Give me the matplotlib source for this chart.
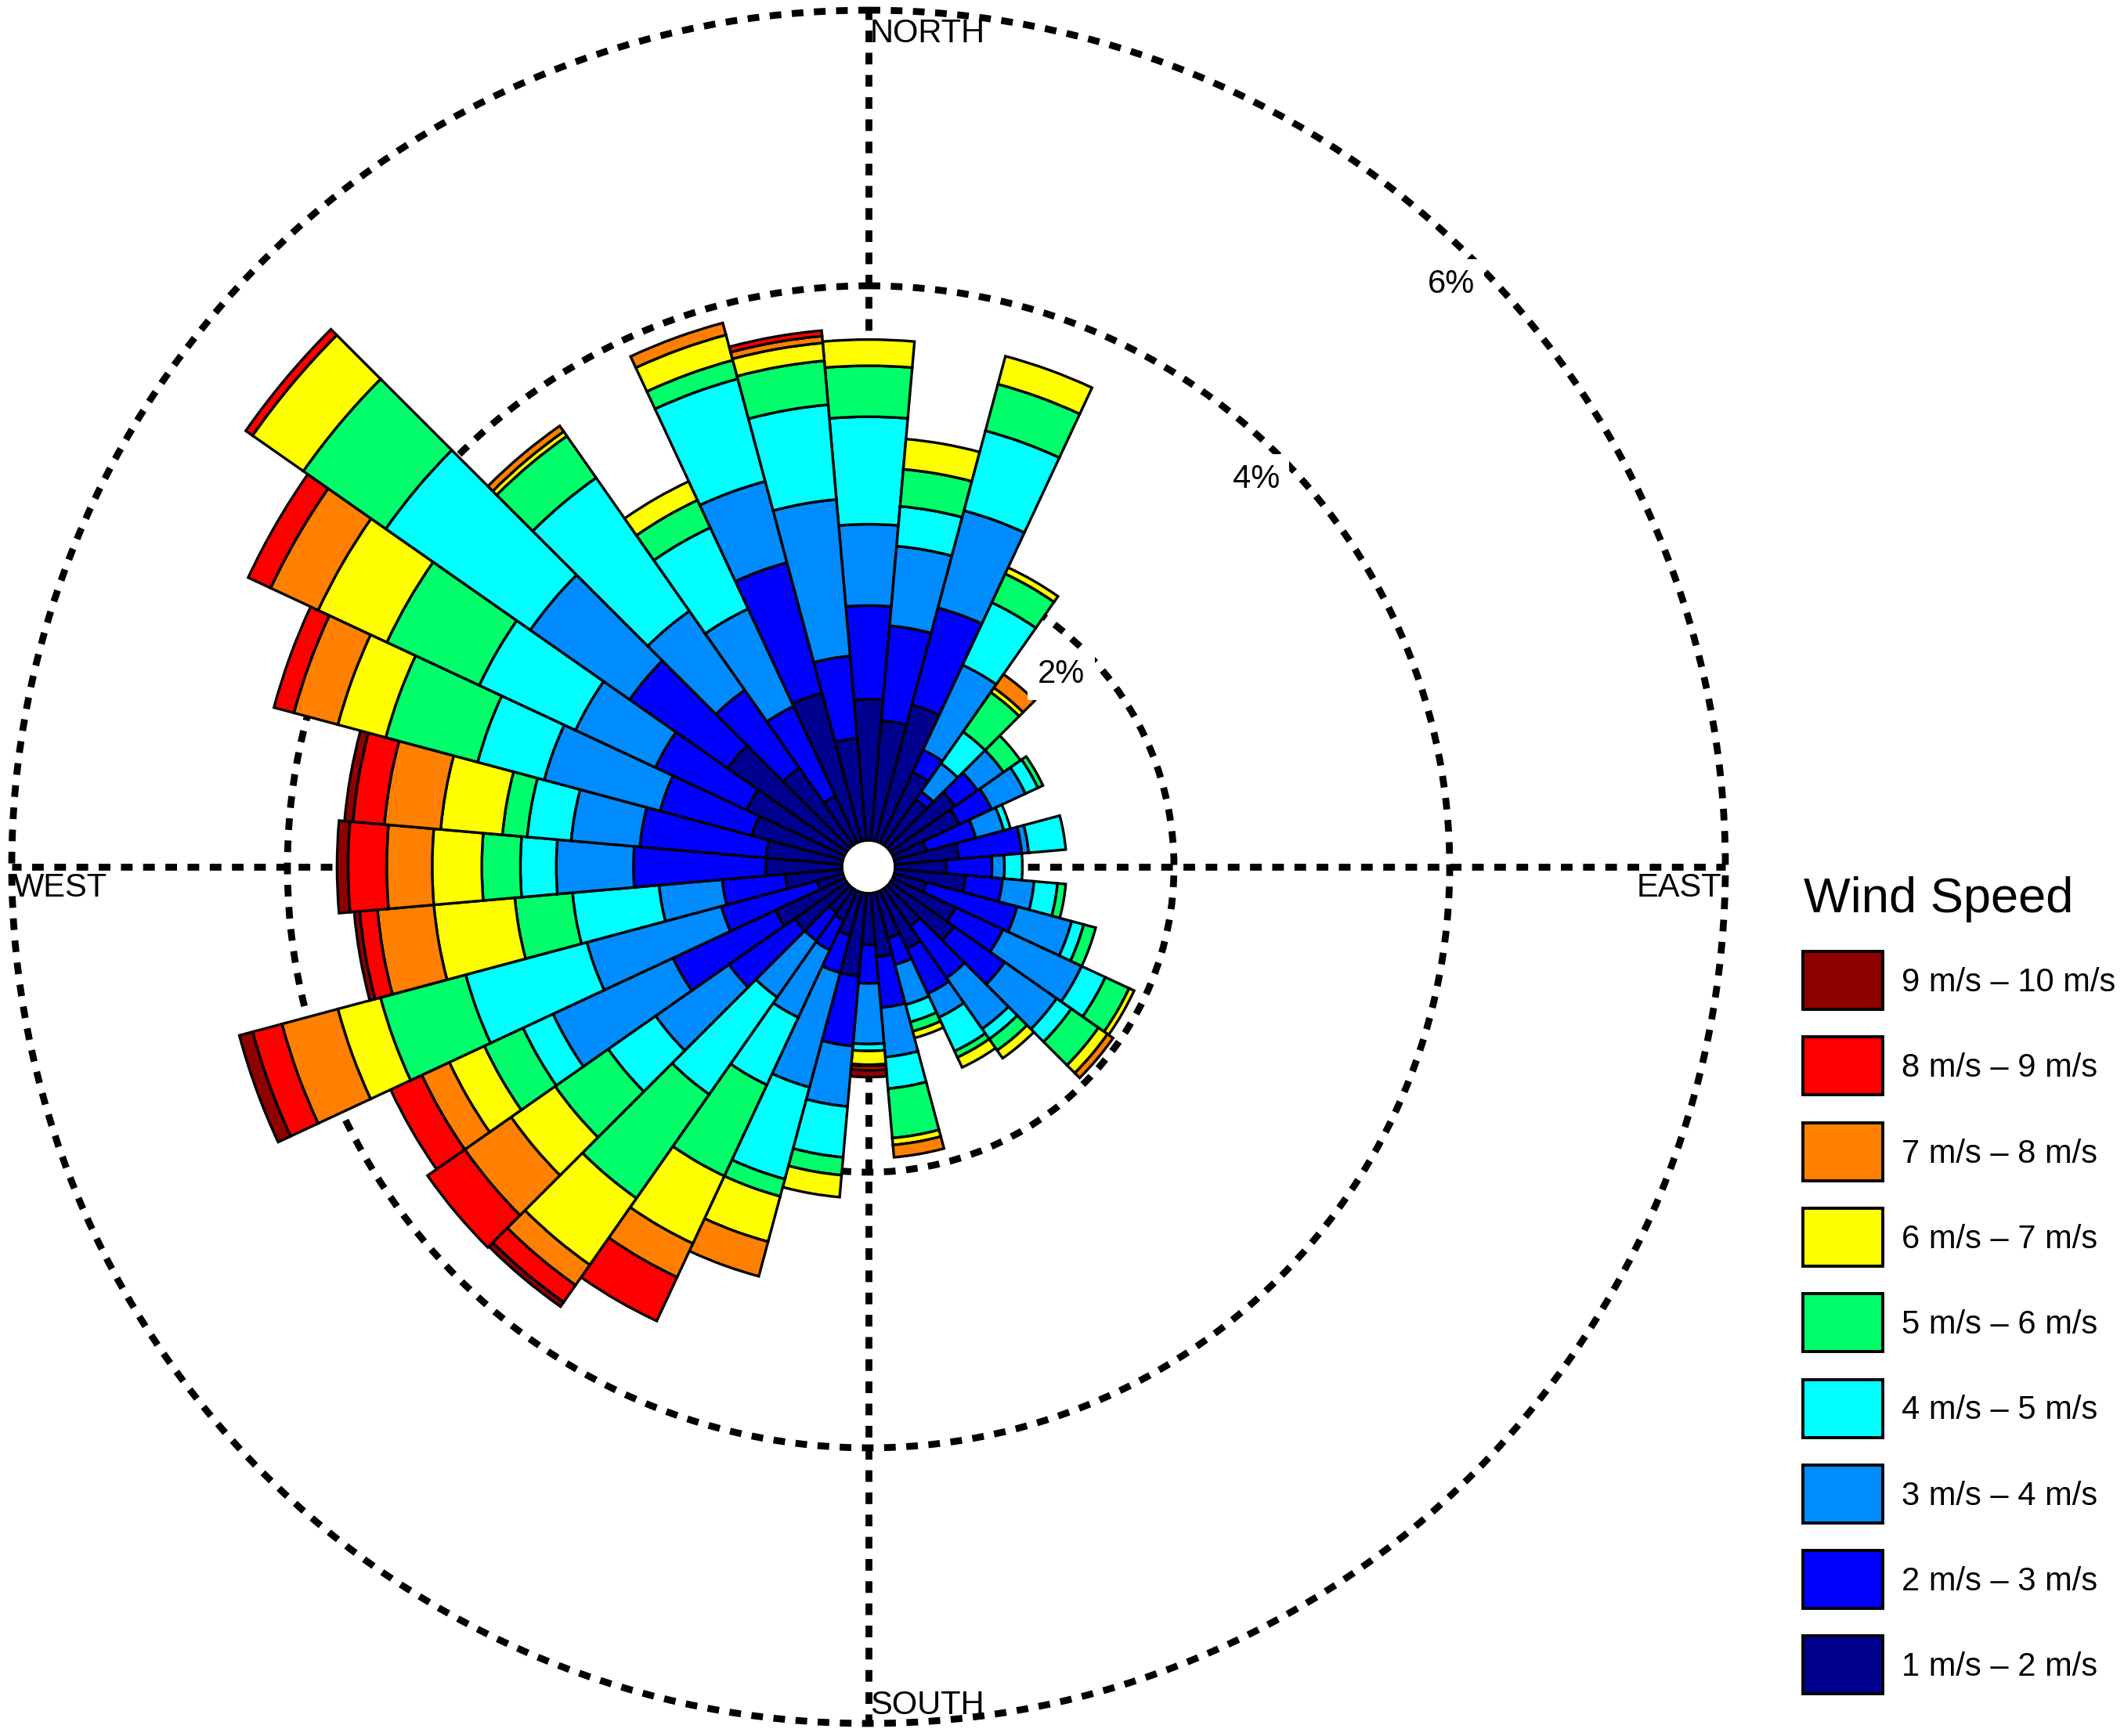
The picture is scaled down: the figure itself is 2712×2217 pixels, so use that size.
import numpy as np
import matplotlib
matplotlib.use("Agg")
import matplotlib.pyplot as plt
from matplotlib.patches import Rectangle

plt.rcParams['font.family'] = ['Liberation Sans', 'DejaVu Sans']

W, H = 2712, 2217
CX, CY = 1109, 1107  # centre of the rose, pixels
R_OUT = 1094         # pixels at 6%
R_HOLE = 38          # pixels at 0%

directions = list(range(0, 360, 10))

speed_labels = ['1 m/s – 2 m/s', '2 m/s – 3 m/s', '3 m/s – 4 m/s', '4 m/s – 5 m/s', '5 m/s – 6 m/s',
                '6 m/s – 7 m/s', '7 m/s – 8 m/s', '8 m/s – 9 m/s', '9 m/s – 10 m/s']
speed_colors = ['#00008F', '#0000FF', '#008CFF', '#00FFFF', '#00FF6A',
                '#FFFF00', '#FF8000', '#FF0000', '#8F0000']

# cumulative percent at the outer end of each speed band, one row per direction
# rows can be short, missing bands just are not there
petals = [
    [1.00, 1.68, 2.27, 3.05, 3.42, 3.61],                    # 0
    [0.85, 1.54, 2.12, 2.41, 2.68, 2.90],                    # 10
    [1.00, 1.73, 2.46, 3.06, 3.41, 3.62],                    # 20
    [0.54, 0.72, 1.40, 1.90, 2.13, 2.18],                    # 30
    [0.38, 0.45, 0.70, 0.98, 1.33, 1.37, 1.49],              # 40
    [0.55, 0.75, 0.98, 0.98, 1.13],                          # 50
    [0.51, 0.77, 1.04, 1.14, 1.18],                          # 60
    [0.22, 0.59, 0.80, 0.85],                                # 70
    [0.44, 0.90, 0.95, 1.22],                                # 80
    [0.35, 0.68, 0.77, 0.90],                                # 90
    [0.49, 0.76, 0.99, 1.16, 1.22],                          # 100
    [0.22, 0.90, 1.31, 1.40, 1.49],                          # 110
    [0.48, 0.86, 1.49, 1.68, 1.87, 1.91],                    # 120
    [0.54, 0.99, 1.45, 1.58, 1.82, 1.90, 1.95],              # 130
    [0.31, 0.77, 1.22, 1.31, 1.41, 1.48],                    # 140
    [0.44, 0.80, 0.99, 1.26, 1.31, 1.39],                    # 150
    [0.32, 0.52, 0.82, 0.95, 1.02, 1.07],                    # 160
    [0.44, 0.81, 1.17, 1.40, 1.76, 1.81, 1.90],              # 170
    [0.35, 0.63, 1.07, 1.12, 1.12, 1.22, 1.23, 1.26, 1.31],  # 180
    [0.58, 1.09, 1.53, 1.90, 2.03, 2.19],                    # 190
    [0.30, 0.58, 1.44, 2.13, 2.26, 2.60, 2.86],              # 200
    [0.21, 0.45, 0.99, 1.53, 2.26, 2.80, 3.07, 3.42],        # 210
    [0.19, 0.44, 0.94, 1.80, 2.72, 3.31, 3.49, 3.64, 3.68],  # 220
    [0.44, 1.02, 1.67, 2.09, 2.56, 2.95, 3.36, 3.69],        # 230
    [0.53, 1.35, 2.31, 2.55, 2.86, 3.14, 3.36, 3.61],        # 240
    [0.17, 0.89, 1.90, 2.81, 3.45, 3.77, 4.19, 4.41, 4.51],  # 250
    [0.39, 0.85, 1.31, 1.94, 2.36, 2.95, 3.36, 3.49, 3.53],  # 260
    [0.53, 1.49, 2.05, 2.31, 2.59, 2.95, 3.28, 3.56, 3.64],  # 270
    [0.53, 1.45, 1.95, 2.27, 2.45, 2.90, 3.31, 3.54, 3.60],  # 280
    [0.66, 1.35, 2.22, 2.72, 3.41, 3.77, 4.10, 4.25],        # 290
    [0.76, 1.49, 2.13, 2.90, 3.64, 4.19, 4.57, 4.75],        # 300
    [1.03, 1.90, 2.78, 4.06, 4.79, 5.24, 5.24, 5.30],        # 310
    [0.66, 1.35, 2.05, 3.23, 3.60, 3.64, 3.69],              # 320
    [0.35, 1.07, 1.85, 2.50, 2.72, 2.87],                    # 330
    [1.09, 2.07, 2.68, 3.45, 3.59, 3.78, 3.87],              # 340
    [0.72, 1.32, 2.46, 3.15, 3.47, 3.60, 3.65, 3.69],        # 350
]

ring_ticks = [2, 4, 6]
ring_labels = ['2%', '4%', '6%']


def fx(px):
    return px / W


def fy(py):
    return 1 - py / H


fig = plt.figure(figsize=(W / 100, H / 100), dpi=100)
ax = fig.add_axes([fx(CX - R_OUT), fy(CY + R_OUT), 2 * R_OUT / W, 2 * R_OUT / H], projection='polar')
ax.set_theta_zero_location('N')
ax.set_theta_direction(-1)
ax.set_rorigin(-6.0 * R_HOLE / (R_OUT - R_HOLE))
ax.set_axisbelow(True)
ax.spines['polar'].set_visible(False)

# dashed rings and spokes sit behind the petals
ax.set_xticks(np.radians([0, 90, 180, 270]))
ax.set_yticks(ring_ticks)
ax.set_xticklabels([])
ax.set_yticklabels([])
ax.tick_params(length=0)
ax.grid(True, color='black', linewidth=6.3, linestyle=(0, (1.7, 1.54)))
for g in ax.xaxis.get_gridlines() + ax.yaxis.get_gridlines():
    g.set_clip_on(False)
    g.set_dash_capstyle('butt')

width = np.radians(10)
for d, tops in zip(directions, petals):
    bottom = -0.025  # hole in the reference is a bit smaller than the ring scale gives
    for top, color in zip(tops, speed_colors):
        if top > bottom:
            ax.bar(np.radians(d), top - bottom, width=width, bottom=bottom, color=color,
                   edgecolor='black', linewidth=2.4, zorder=3)
        bottom = top

ax.set_rmin(-0.03)
ax.set_rmax(6)

for tick, lab in zip(ring_ticks, ring_labels):
    ax.text(np.radians(45), tick - 0.24, lab, fontsize=30, ha='center', va='center', zorder=5,
            bbox=dict(facecolor='white', edgecolor='none', pad=9))

fig.text(fx(1111), fy(43), 'NORTH', fontsize=30, ha='left', va='center')
fig.text(fx(1111), fy(2178), 'SOUTH', fontsize=30, ha='left', va='center')
fig.text(fx(17), fy(1134), 'WEST', fontsize=30, ha='left', va='center')
fig.text(fx(2198), fy(1134), 'EAST', fontsize=30, ha='right', va='center')

# legend by hand, biggest speed on top
fig.text(fx(2303), fy(1165), 'Wind Speed', fontsize=45.5, ha='left', va='baseline')
for i, (lab, color) in enumerate(zip(speed_labels[::-1], speed_colors[::-1])):
    top = 1215 + i * 109.3
    fig.add_artist(Rectangle((fx(2302), fy(top + 74)), 102 / W, 74 / H, transform=fig.transFigure,
                             facecolor=color, edgecolor='black', linewidth=2.8))
    fig.text(fx(2428), fy(top + 40), lab, fontsize=30, ha='left', va='center')

fig.savefig('out.png', dpi=100)
